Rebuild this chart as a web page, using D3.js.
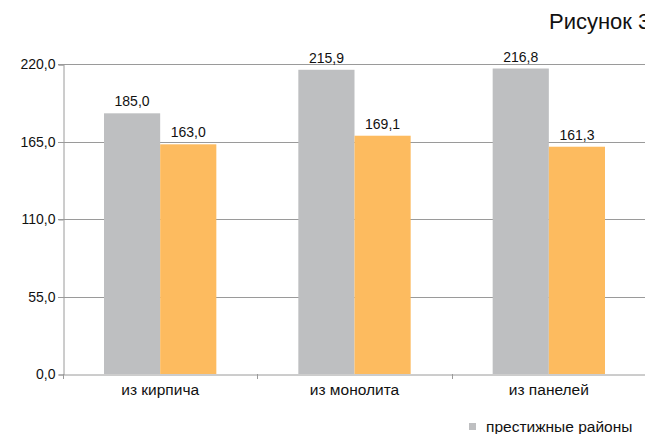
<html>
<head>
<meta charset="utf-8">
<style>
body{margin:0;background:#fff;}
text{font-family:"Liberation Sans",Arial,sans-serif;fill:#111;}
.grid line{stroke:#9a9a9a;stroke-width:1;}
</style>
</head>
<body>
<script src="https://cdn.jsdelivr.net/npm/d3@7/dist/d3.min.js"></script>
<script>
var categories = ["из кирпича", "из монолита", "из панелей"];
var seriesNames = ["престижные районы", "другие районы"];
var prestige = [185.0, 215.9, 216.8];
var other = [163.0, 169.1, 161.3];
var yTicks = [0, 55, 110, 165, 220];
var colors = ["#bebfc1", "#fdbb5f"];

var width = 645, height = 434;
var plotLeft = 63, plotRight = 645, plotTop = 64, plotBottom = 374;

var svg = d3.select("body").append("svg")
    .attr("width", width)
    .attr("height", height);

var fmt = function(v){ return d3.format(".1f")(v).replace(".", ","); };

var y = d3.scaleLinear().domain([0, 220]).range([plotBottom, plotTop]);
var x = d3.scaleBand().domain(categories).range([plotLeft, plotRight + 1]).paddingInner(0).paddingOuter(0);
var xs = d3.scaleBand().domain([0, 1]).range([0, x.bandwidth()]).paddingInner(0).paddingOuter(0.73);

// grid
svg.append("g").attr("class", "grid")
  .selectAll("line").data(yTicks.slice(1)).enter().append("line")
    .attr("x1", plotLeft - 5).attr("x2", width)
    .attr("y1", function(d){ return Math.round(y(d)) + 0.5; })
    .attr("y2", function(d){ return Math.round(y(d)) + 0.5; });

// y axis
var yAxis = svg.append("g")
    .attr("transform", "translate(" + (plotLeft + 0.5) + ",0.5)")
    .call(d3.axisLeft(y).tickValues(yTicks).tickFormat(fmt).tickSize(5).tickPadding(3));
yAxis.select(".domain").attr("stroke", "#9a9a9a");
yAxis.selectAll(".tick line").attr("stroke", "#9a9a9a");
yAxis.selectAll(".tick text").style("font-size", "14px").attr("fill", "#111");

var series = [prestige, other];
categories.forEach(function(c, i){
    series.forEach(function(s, k){
        svg.append("rect")
            .attr("x", x(c) + xs(k))
            .attr("y", y(s[i]))
            .attr("width", xs.bandwidth())
            .attr("height", plotBottom - y(s[i]))
            .attr("fill", colors[k]);
        svg.append("text")
            .attr("x", x(c) + xs(k) + xs.bandwidth() / 2)
            .attr("y", y(s[i]) - 7)
            .attr("text-anchor", "middle")
            .style("font-size", "14px")
            .text(fmt(s[i]));
    });
});

// x axis
var xAxis = svg.append("g")
    .attr("transform", "translate(0," + (plotBottom + 0.5) + ")")
    .call(d3.axisBottom(x).tickSize(0).tickPadding(9));
xAxis.select(".domain").attr("stroke", "#9a9a9a");
xAxis.selectAll(".tick text").style("font-size", "15.5px").attr("fill", "#111");
svg.append("g").selectAll("line").data(d3.range(categories.length + 1)).enter().append("line")
    .attr("x1", function(d){ return Math.round(plotLeft + d * x.bandwidth()) + 0.5; })
    .attr("x2", function(d){ return Math.round(plotLeft + d * x.bandwidth()) + 0.5; })
    .attr("y1", plotBottom).attr("y2", plotBottom + 5)
    .attr("stroke", "#9a9a9a");

// legend
svg.append("rect").attr("x", 469).attr("y", 423).attr("width", 7).attr("height", 7).attr("fill", colors[0]);
svg.append("text").attr("x", 486).attr("y", 432).style("font-size", "15.5px").text(seriesNames[0]);

// title
svg.append("text").attr("x", 549).attr("y", 29).style("font-size", "22px").text("Рисунок 3");
</script>
</body>
</html>
